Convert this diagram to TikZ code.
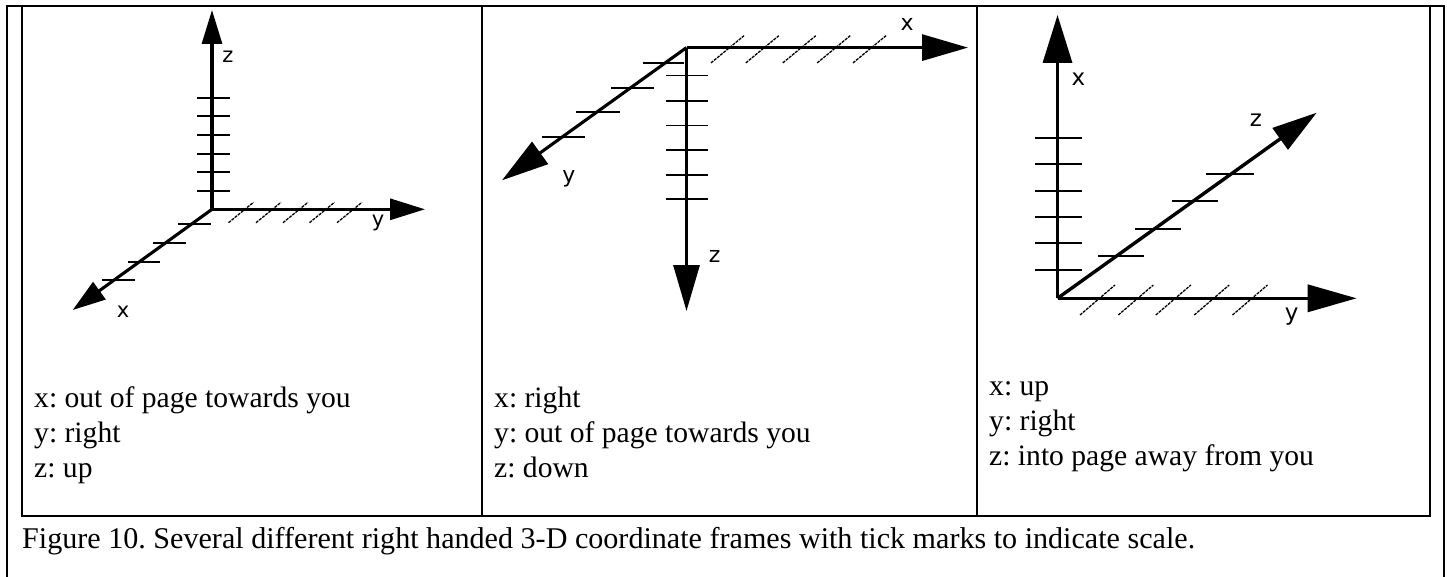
\documentclass[tikz,border=0pt]{standalone}
\usepackage{fontspec}
\setmainfont{Liberation Serif}
\newfontfamily\labelfont{DejaVu Sans}
\usetikzlibrary{arrows.meta}
\frenchspacing
\begin{document}
\begin{tikzpicture}[x=1pt,y=-1pt,
  frame/.style={line width=2.2pt},
  axis/.style={line width=3.1pt},
  ticky/.style={line width=1.7pt},
  slash/.style={line width=1.3pt, dash pattern=on 3pt off 1pt},
  lbl/.style={font=\labelfont\fontsize{21}{24}\selectfont, inner sep=0pt},
  txt/.style={font=\fontsize{29.6}{34}\selectfont, anchor=base west, inner sep=0pt},
]
\frenchspacing
\useasboundingbox (0,0) rectangle (1447,577);
\fill[white] (0,0) rectangle (1447,577);
% table frame
\draw[frame] (7,577) -- (7,6) -- (1444,6) -- (1444,577);
\draw[frame] (22,6) -- (22,516) -- (1430,516) -- (1430,6);
\draw[frame] (482,6) -- (482,516);
\draw[frame] (977,6) -- (977,516);

% ---------- panel 1 ----------
\coordinate (o1) at (212,209.3);
\coordinate (z1) at (212,10);
\coordinate (y1) at (425,209.3);
\coordinate (x1) at (72.7,310);
\foreach \t in {97.7,116.3,135,153.7,172.3,191} \draw[ticky] (197,\t) -- (230,\t);
\foreach \a/\b/\t in {178/211/224,153/186/242.7,128/160/261.7,102/135/280} \draw[ticky] (\a,\t) -- (\b,\t);
\foreach \c in {241,268.5,295.5,322,349.5} \draw[slash] (\c-12.5,222.7) -- (\c+12.5,202.3);
\draw[axis,-{Triangle[length=34pt,width=20pt]}] (o1) -- (z1);
\draw[axis,-{Triangle[length=35pt,width=21pt]}] (o1) -- (y1);
\draw[axis,-{Triangle[length=33pt,width=21pt]}] (o1) -- (x1);
\node[lbl] (lz1) at (228,57) {z};
\node[lbl] (ly1) at (378,223) {y};
\node[lbl] (lx1) at (123,312) {x};

% ---------- panel 2 ----------
\coordinate (o2) at (686.5,47.6);
\coordinate (x2) at (968,47.6);
\coordinate (z2) at (686.5,311);
\coordinate (y2) at (502,180.3);
\foreach \t in {75.5,100.7,125.5,150,174.8,199.3} \draw[ticky] (666,\t) -- (708,\t);
\foreach \a/\b/\t in {642.6/684.1/62.9,611/654.1/87.8,576.3/619.5/112.2,541.9/585.4/137.1} \draw[ticky] (\a,\t) -- (\b,\t);
\foreach \c in {727.5,762.3,799.3,833.7,869.5} \draw[slash] (\c-16.5,62.9) -- (\c+16.5,35.7);
\draw[axis,-{Triangle[length=46pt,width=26pt]}] (o2) -- (x2);
\draw[axis,-{Triangle[length=46pt,width=26pt]}] (o2) -- (z2);
\draw[axis,-{Triangle[length=47pt,width=27pt]}] (o2) -- (y2);
\node[lbl,font=\labelfont\fontsize{22}{25}\selectfont] (lx2) at (907,24.5) {x};
\node[lbl,font=\labelfont\fontsize{22}{25}\selectfont] (lz2) at (714.7,256.8) {z};
\node[lbl,font=\labelfont\fontsize{22}{25}\selectfont] (ly2) at (569,178.6) {y};

% ---------- panel 3 ----------
\coordinate (o3) at (1057.5,298.3);
\coordinate (x3) at (1057.5,15);
\coordinate (y3) at (1356.7,298.3);
\coordinate (z3) at (1316.7,112.7);
\foreach \t in {137.7,164,190.7,217,243.3,269.7} \draw[ticky] (1035,\t) -- (1081.7,\t);
\foreach \a/\b/\t in {1205.7/1254.3/174,1171.7/1217.7/200.7,1135/1181/229,1098.3/1144.3/255.7} \draw[ticky] (\a,\t) -- (\b,\t);
\foreach \c in {1097.5,1135.8,1173.3,1211.7,1250} \draw[slash] (\c-17.5,315) -- (\c+17.5,285);
\draw[axis,line width=3.4pt,-{Triangle[length=48pt,width=29pt]}] (o3) -- (x3);
\draw[axis,line width=3.4pt,-{Triangle[length=49pt,width=27pt]}] (o3) -- (y3);
\draw[axis,line width=3.4pt,-{Triangle[length=45pt,width=26pt]}] (o3) -- (z3);
\node[lbl,font=\labelfont\fontsize{23}{26}\selectfont] (lx3) at (1078.3,79) {x};
\node[lbl,font=\labelfont\fontsize{23}{26}\selectfont] (ly3) at (1291.7,316.7) {y};
\node[lbl,font=\labelfont\fontsize{23}{26}\selectfont] (lz3) at (1256,120) {z};

% ---------- text ----------
\node[txt] (t1a) at (34,407) {x: out of page towards you};
\node[txt] (t1b) at (34,442) {y: right};
\node[txt] (t1c) at (34,477) {z: up};
\node[txt] (t2a) at (494,407) {x: right};
\node[txt] (t2b) at (494,442) {y: out of page towards you};
\node[txt] (t2c) at (494,477) {z: down};
\node[txt] (t3a) at (989,395) {x: up};
\node[txt] (t3b) at (989,430) {y: right};
\node[txt] (t3c) at (989,465) {z: into page away from you};
\node[txt,font=\fontsize{30.1}{34}\selectfont] (cap) at (22,548) {Figure 10. Several different right handed 3-D coordinate frames with tick marks to indicate scale.};
\end{tikzpicture}
\end{document}
